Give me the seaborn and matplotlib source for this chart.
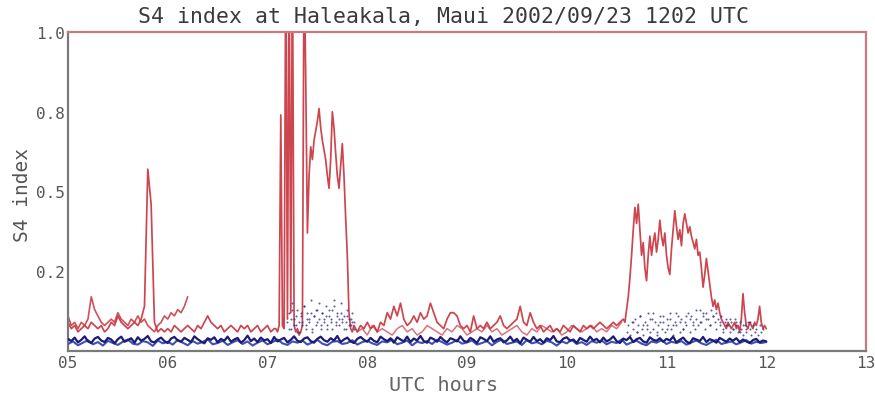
import numpy as np
import pandas as pd
import matplotlib
matplotlib.use("Agg")
import matplotlib.pyplot as plt
import seaborn as sns

# ---------------- data ----------------
# main red S4 trace, in hundredths, split in segments (start hour, step minutes)
red_seg1_start, red_seg1_step = 5.0, 2          # 05:00 - 07:04
red_seg1 = [9, 7, 8, 6, 7, 8, 7, 9, 8, 7, 8, 6, 7, 9, 8, 11, 9, 8, 7, 8,
            9, 8, 10, 14, 57, 46, 9, 6, 7, 6, 7, 6, 8, 7, 6, 7, 8, 7, 6, 8,
            7, 9, 11, 9, 8, 7, 8, 6, 7, 8, 7, 6, 8, 7, 8, 6, 7, 8, 6, 7,
            8, 6, 7]
red_seg2_start, red_seg2_step = 7 + 5 / 60, 1   # 07:05 - 07:52
red_seg2 = [7, 6, 8, 74, 8, 7, 125, 10, 125, 12, 125, 8, 6, 7, 5, 6, 8, 125, 85,
            37, 55, 64, 60, 66, 69, 72, 76, 70, 66, 63, 60, 55, 51, 60, 75, 70,
            62, 55, 51, 58, 65, 55, 42, 30, 12, 7, 6, 8]
red_seg3_start, red_seg3_step = 7 + 54 / 60, 2  # 07:54 - 10:34
red_seg3 = [6, 8, 7, 9, 7, 8, 6, 9, 8, 12, 10, 14, 11, 15, 10, 8, 9, 11, 9, 12,
            10, 11, 15, 12, 9, 8, 7, 10, 12, 12, 11, 8, 7, 8, 6, 11, 7, 8, 7, 9,
            7, 8, 9, 11, 8, 7, 8, 9, 10, 14, 9, 8, 12, 9, 7, 8, 6, 7, 8, 6,
            7, 6, 8, 7, 6, 8, 7, 6, 8, 7, 8, 7, 8, 9, 8, 7, 8, 9, 8, 9, 10]
red_seg4_start, red_seg4_step = 10 + 35 / 60, 1  # 10:35 - 12:00
red_seg4 = [9, 13, 17, 23, 30, 38, 45, 40, 46, 38, 30, 34, 26, 22, 30, 36, 30, 34,
            37, 31, 35, 41, 36, 33, 37, 30, 26, 24, 32, 38, 44, 39, 35, 38, 33, 40,
            43, 40, 37, 39, 36, 34, 32, 35, 30, 31, 26, 20, 24, 29, 25, 21, 17, 14,
            16, 13, 15, 12, 10, 9, 8, 7, 9, 8, 7, 8, 9, 7, 8, 6, 10, 18, 12, 8,
            7, 9, 8, 7, 9, 8, 10, 14, 9, 7, 8, 7]

# second red trace 05:00 - 06:12 (hundredths)
red_a_start, red_a_step = 5.0, 2
red_a = [11, 8, 9, 7, 9, 8, 10, 17, 13, 11, 9, 8, 9, 10, 9, 12, 10, 9, 8, 10,
         9, 11, 9, 10, 8, 7, 6, 8, 9, 11, 10, 12, 11, 13, 12, 14, 17]

# third red trace 07:54 - 10:34 (hundredths)
red_b_start, red_b_step = 7 + 54 / 60, 3
red_b = [6, 7, 5, 8, 6, 7, 6, 5, 7, 8, 6, 7, 5, 6, 8, 7, 6, 5, 7, 6, 8, 7, 5, 6,
         7, 6, 8, 6, 7, 5, 6, 7, 8, 6, 5, 7, 6, 8, 7, 6, 7, 5, 6, 8, 7, 6, 7, 8,
         6, 7, 6, 8, 7, 9]

# navy traces (thousandths)
navy_a_start, navy_a_step = 5.0, 2
navy_a = [38, 31, 42, 27, 35, 46, 30, 25, 39, 44, 33, 28, 41, 36, 24, 37, 45, 29, 34, 40,
          26, 43, 32, 38, 47, 30, 27, 36, 42, 31, 25, 39, 44, 33, 29, 41, 35, 28, 46, 37,
          30, 24, 40, 35, 43, 27, 38, 32, 45, 29, 36, 41, 26, 34, 48, 31, 39, 28, 42, 33,
          37, 25, 44, 30, 36, 41, 27, 35, 46, 32, 28, 39, 43, 31, 26, 38, 45, 34, 29, 40,
          33, 47, 28, 36, 42, 30, 25, 38, 44, 35, 29, 41, 32, 27, 45, 37, 31, 40, 26, 43,
          36, 30, 45, 28, 39, 33, 47, 31, 26, 42, 37, 29, 44, 34, 27, 40, 36, 30, 46, 32,
          28, 41, 35, 25, 43, 38, 31, 46, 29, 36, 40, 27, 33, 45, 30, 38, 24, 42, 35, 29,
          44, 31, 37, 26, 40, 34, 47, 30, 28, 39, 43, 32, 36, 25, 41, 35, 29, 45, 33, 38,
          27, 42, 30, 36, 46, 31, 25, 39, 34, 44, 28, 37, 41, 30, 26, 43, 35, 32, 40, 29,
          38, 33, 45, 27, 35, 42, 30, 24, 40, 36, 31, 44, 28, 37, 33, 26, 41, 35, 29, 39,
          32, 40, 28, 36, 30, 25, 34, 38, 27, 33, 30]
navy_b_start, navy_b_step = 5.0, 3
navy_b = [22, 30, 18, 26, 34, 21, 28, 17, 32, 25, 19, 29, 36, 23, 20, 31, 27, 16, 33, 24,
          29, 20, 35, 26, 18, 31, 23, 28, 37, 21, 25, 32, 19, 27, 34, 22, 30, 17, 26, 33,
          21, 28, 36, 24, 19, 30, 26, 33, 20, 27, 35, 23, 18, 29, 31, 22, 25, 34, 20, 28,
          32, 24, 19, 30, 27, 36, 21, 26, 33, 18, 29, 25, 31, 22, 35, 28, 20, 26, 34, 23,
          27, 33, 20, 25, 31, 18, 29, 36, 22, 26, 30, 19, 34, 24, 28, 21, 32, 27, 17, 30,
          24, 35, 22, 28, 19, 31, 26, 33, 21, 29, 25, 36, 20, 27, 32, 23, 18, 30, 26, 34,
          22, 29, 25, 31, 20, 27, 33, 24, 19, 28, 35, 22, 26, 30, 21, 27, 34, 23, 29, 25,
          28]

# scattered blue points (hundredths)
dots_a_start, dots_a_step = 7 + 12 / 60, 1
dots_a = [9, 12, 7, 15, 10, 8, 13, 6, 11, 9, 14, 8, 12, 10, 16, 7, 11, 13, 9, 15, 8,
          12, 10, 14, 7, 11, 9, 13, 16, 8, 12, 10, 15, 9, 11, 7, 13, 10, 8, 12, 9]
dots_b_start, dots_b_step = 7 + 13 / 60, 1
dots_b = [7, 10, 13, 8, 11, 6, 9, 12, 8, 14, 7, 10, 9, 12, 6, 11, 8, 13, 10, 7,
          12, 9, 11, 8, 13, 10, 7, 14, 9, 11, 8, 12, 10, 7, 9, 11, 8, 10, 9, 7]
dots_c_start, dots_c_step = 10 + 36 / 60, 1
dots_c = [6, 8, 5, 9, 7, 10, 6, 8, 11, 7, 5, 9, 8, 12, 6, 10, 7, 9, 5, 8, 11, 7, 9, 6,
          10, 8, 12, 7, 5, 9, 8, 11, 6, 10, 7, 9, 8, 12, 6, 11, 9, 7, 10, 8, 13, 9, 11,
          7, 12, 10, 8, 13, 11, 9, 12, 10, 8, 11, 7, 9, 10, 8, 6, 9, 7, 10, 8, 6, 9, 7,
          5, 8, 6, 9, 7, 5, 8, 6, 7, 5, 8, 6, 7]
dots_d_start, dots_d_step = 10 + 40 / 60, 2
dots_d = [9, 6, 11, 8, 7, 10, 12, 6, 9, 11, 7, 10, 8, 12, 9, 7, 11, 10, 8, 13, 9, 12,
          10, 8, 11, 7, 9, 6, 8, 10, 7, 9, 6, 8, 7, 9]

x_ticks = [5, 6, 7, 8, 9, 10, 11, 12, 13]
x_tick_labels = ["05", "06", "07", "08", "09", "10", "11", "12", "13"]
y_ticks = [0.25, 0.5, 0.75, 1.0]
y_tick_labels = ["0.2", "0.5", "0.8", "1.0"]
title = "S4 index at Haleakala, Maui 2002/09/23 1202 UTC"
x_label = "UTC hours"
y_label = "S4 index"


def seg(start, step_min, vals, scale):
    t = start + np.arange(len(vals)) * step_min / 60.0
    return pd.DataFrame({"t": t, "v": np.asarray(vals, float) / scale})


red_main = pd.concat([
    seg(red_seg1_start, red_seg1_step, red_seg1, 100),
    seg(red_seg2_start, red_seg2_step, red_seg2, 100),
    seg(red_seg3_start, red_seg3_step, red_seg3, 100),
    seg(red_seg4_start, red_seg4_step, red_seg4, 100),
], ignore_index=True)
red_a_df = seg(red_a_start, red_a_step, red_a, 100)
red_b_df = seg(red_b_start, red_b_step, red_b, 100)
navy_a_df = seg(navy_a_start, navy_a_step, navy_a, 1000)
navy_b_df = seg(navy_b_start, navy_b_step, navy_b, 1000)
dots_df = pd.concat([
    seg(dots_a_start, dots_a_step, dots_a, 100),
    seg(dots_b_start, dots_b_step, dots_b, 100),
    seg(dots_c_start, dots_c_step, dots_c, 100),
    seg(dots_d_start, dots_d_step, dots_d, 100),
], ignore_index=True)

# ---------------- drawing ----------------
sns.set_style("white")
plt.rcParams["font.family"] = ["DejaVu Sans Mono", "DejaVu Sans"]

W, H = 875, 406
fig = plt.figure(figsize=(W / 100, H / 100), dpi=100)
ax = fig.add_axes([68 / W, 1 - 352 / H, (866 - 68) / W, (352 - 33) / H])

RED = "#c8323c"
NAVY = "#1c1c78"
BLUE = "#3f4fb4"

sns.lineplot(data=red_a_df, x="t", y="v", ax=ax, color=RED, lw=1.2, alpha=0.85,
             estimator=None, sort=False, legend=False)
sns.lineplot(data=red_b_df, x="t", y="v", ax=ax, color="#d0505a", lw=1.1, alpha=0.8,
             estimator=None, sort=False, legend=False)
sns.lineplot(data=red_main, x="t", y="v", ax=ax, color=RED, lw=1.25, alpha=0.9,
             estimator=None, sort=False, legend=False)
sns.scatterplot(data=dots_df, x="t", y="v", ax=ax, color="#2a2a8a", s=2.2,
                alpha=0.75, linewidth=0, legend=False, zorder=2.5)
sns.lineplot(data=navy_b_df, x="t", y="v", ax=ax, color=BLUE, lw=1.5,
             estimator=None, sort=False, legend=False, zorder=3)
sns.lineplot(data=navy_a_df, x="t", y="v", ax=ax, color=NAVY, lw=1.6,
             estimator=None, sort=False, legend=False, zorder=3)

ax.set_xlim(5, 13)
ax.set_ylim(0, 1.0)
ax.set_xticks(x_ticks)
ax.set_xticklabels(x_tick_labels)
ax.set_yticks(y_ticks)
ax.set_yticklabels(y_tick_labels)
ax.set_xlabel("")
ax.set_ylabel("")

ax.tick_params(axis="y", direction="in", length=10, width=1.2, color="#777777",
               labelcolor="#555555", labelsize=11.5, pad=2)
ax.tick_params(axis="x", direction="in", length=6, width=1.2, color="#777777",
               labelcolor="#555555", labelsize=11.5, pad=3)

for side in ("left", "bottom"):
    ax.spines[side].set_color("#7a7a7a")
    ax.spines[side].set_linewidth(1.6)
for side in ("top", "right"):
    ax.spines[side].set_color("#c87a7e")
    ax.spines[side].set_linewidth(1.6)
    ax.spines[side].set_visible(True)

fig.text(444 / W, 1 - 17 / H, title, ha="center", va="center",
         fontsize=15.5, color="#3a3a3a")
fig.text(444 / W, 1 - 386 / H, x_label, ha="center", va="center",
         fontsize=14.5, color="#666666")
fig.text(23 / W, 1 - 195 / H, y_label, ha="center", va="center", rotation=90,
         fontsize=14, color="#555555")

fig.savefig("out.png", dpi=100)
